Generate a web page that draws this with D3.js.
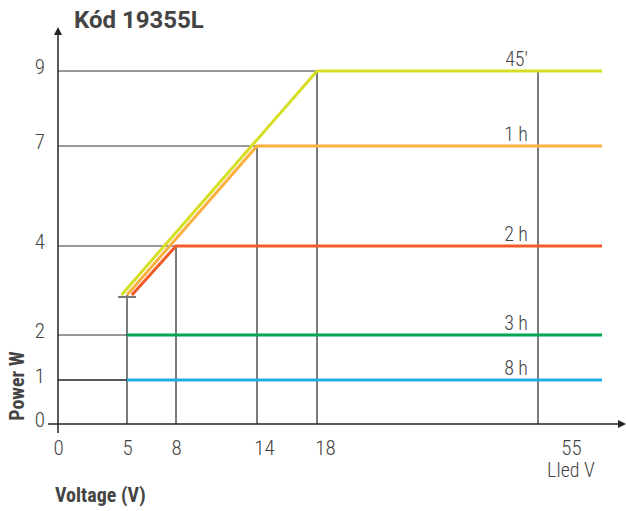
<!DOCTYPE html>
<html>
<head>
<meta charset="utf-8">
<script src="https://cdn.jsdelivr.net/npm/d3@7"></script>
<style>
  body { margin: 0; background: #fff; }
  .lbl { font-family: "Roboto Condensed", "Liberation Sans Narrow", Roboto, sans-serif; font-weight: 300; fill: #444; }
  .bold { font-family: "Roboto Condensed", "Liberation Sans Narrow", Roboto, sans-serif; font-weight: 700; fill: #444; }
</style>
</head>
<body>
<div id="chart"></div>
<script>
// chart values
var xTicks = [0, 5, 8, 14, 18, 55];
var yTicks = [0, 1, 2, 4, 7, 9];
var seriesNames = ["45\u2032", "1 h", "2 h", "3 h", "8 h"];
var startV = [4.6, 5.0, 5.3, 5, 5];
var startP = [2.9, 2.9, 2.9, 2, 1];
var kneeV = [18, 14, 8, 5, 5];
var ratedP = [9, 7, 4, 2, 1];
var xEnd = 60;
var ledV = 55;
var colors = ["#d6df24", "#fbb040", "#f15a29", "#00a651", "#1eaee6"];

var width = 626, height = 511;

var svg = d3.select("#chart")
    .append("svg")
    .attr("width", width)
    .attr("height", height);

// axes are not linear in the original, so piecewise scales
var x = d3.scaleLinear()
    .domain([0, 5, 8, 14, 18, 55, 60])
    .range([58, 127, 176, 257, 317, 538, 602]);
var y = d3.scaleLinear()
    .domain([0, 1, 2, 4, 7, 9])
    .range([424, 380, 335, 246, 146, 71]);

// horizontal grid lines up to the knee
svg.append("g").selectAll("line")
    .data(ratedP)
    .enter().append("line")
    .attr("x1", x(0))
    .attr("x2", function (d, i) { return x(kneeV[i]); })
    .attr("y1", function (d) { return y(d); })
    .attr("y2", function (d) { return y(d); })
    .attr("stroke", function (d) { return d == 1 ? "#222" : "#777"; })
    .attr("stroke-width", 1.3);

// vertical grid lines from knee down to axis
var vLines = [];
kneeV.forEach(function (v, i) {
    var top = v == 5 ? d3.max(startP) : ratedP[i];
    if (!vLines.some(function (l) { return l.v == v; })) vLines.push({ v: v, p: top });
});
vLines.push({ v: ledV, p: d3.max(ratedP) });
svg.append("g").selectAll("line")
    .data(vLines)
    .enter().append("line")
    .attr("x1", function (d) { return x(d.v); })
    .attr("x2", function (d) { return x(d.v); })
    .attr("y1", function (d) { return y(d.p); })
    .attr("y2", y(0))
    .attr("stroke", "#222")
    .attr("stroke-width", 1.2);

// little cap at the 5 V start
svg.append("line")
    .attr("x1", x(5) - 9)
    .attr("x2", x(5) + 9)
    .attr("y1", y(d3.max(startP)) + 2)
    .attr("y2", y(d3.max(startP)) + 2)
    .attr("stroke", "#777")
    .attr("stroke-width", 2);

// series lines
var line = d3.line()
    .x(function (d) { return x(d[0]); })
    .y(function (d) { return y(d[1]); });

seriesNames.forEach(function (name, i) {
    var pts = [[startV[i], startP[i]], [kneeV[i], ratedP[i]], [xEnd, ratedP[i]]];
    svg.append("path")
        .attr("d", line(pts))
        .attr("fill", "none")
        .attr("stroke", colors[i])
        .attr("stroke-width", 3);
    svg.append("text")
        .attr("class", "lbl")
        .attr("x", x(ledV) - 10)
        .attr("y", y(ratedP[i]) - 5)
        .attr("text-anchor", "end")
        .style("font-size", "20px")
        .text(name);
});

// x axis labels
var xAxis = d3.axisBottom(x)
    .tickValues(xTicks)
    .tickSize(0)
    .tickPadding(16)
    .tickFormat(d3.format("d"));
var gx = svg.append("g")
    .attr("transform", "translate(0," + y(0) + ")")
    .call(xAxis);
gx.select(".domain").remove();
var shift = { 14: 7, 18: 8, 55: 33 };
gx.selectAll("text")
    .attr("class", "lbl")
    .attr("fill", null)
    .style("font-size", "21px")
    .attr("dx", function (d) { return shift[d] || 0; });
gx.append("text")
    .attr("class", "lbl")
    .attr("x", x(ledV) + 33)
    .attr("y", 53)
    .attr("text-anchor", "middle")
    .style("font-size", "20px")
    .text("Lled V");

// y axis labels
var yAxis = d3.axisLeft(y)
    .tickValues(yTicks)
    .tickSize(0)
    .tickPadding(13);
var gy = svg.append("g")
    .attr("transform", "translate(" + x(0) + ",0)")
    .call(yAxis);
gy.select(".domain").remove();
gy.selectAll("text")
    .attr("class", "lbl")
    .attr("fill", null)
    .attr("dy", "0.1em")
    .style("font-size", "21px");

// axis lines with arrow heads
svg.append("line")
    .attr("x1", 48).attr("x2", 620)
    .attr("y1", y(0)).attr("y2", y(0))
    .attr("stroke", "#222").attr("stroke-width", 1.5);
svg.append("path")
    .attr("d", "M626," + y(0) + "L618," + (y(0) - 4) + "L618," + (y(0) + 4) + "Z")
    .attr("fill", "#222");
svg.append("line")
    .attr("x1", x(0)).attr("x2", x(0))
    .attr("y1", 433).attr("y2", 33)
    .attr("stroke", "#222").attr("stroke-width", 1.5);
svg.append("path")
    .attr("d", "M" + x(0) + ",27L" + (x(0) - 4) + ",35L" + (x(0) + 4) + ",35Z")
    .attr("fill", "#222");

// titles
svg.append("text")
    .attr("x", 74)
    .attr("y", 28)
    .style("font-family", "Roboto, sans-serif")
    .style("font-weight", 700)
    .style("font-size", "24px")
    .attr("fill", "#444")
    .text("Kód 19355L");

svg.append("text")
    .attr("class", "bold")
    .attr("x", 55)
    .attr("y", 502)
    .style("font-size", "20px")
    .text("Voltage (V)");

svg.append("text")
    .attr("class", "bold")
    .attr("transform", "translate(24,386) rotate(-90)")
    .attr("text-anchor", "middle")
    .style("font-size", "20px")
    .text("Power W");
</script>
</body>
</html>
